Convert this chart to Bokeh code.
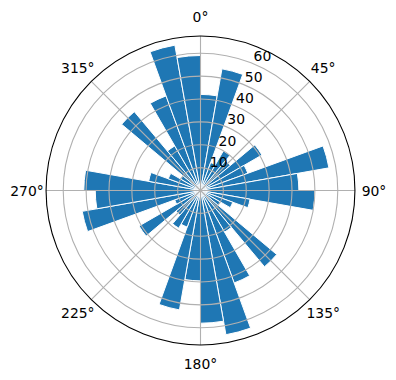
import numpy as np
from bokeh.plotting import figure
from bokeh.models import Range1d, ColumnDataSource
from bokeh.embed import file_html
from bokeh.resources import INLINE
from bokeh.core.properties import value

# ---- data (compass degrees, clockwise from north) ----
bin_start = [0, 10, 20, 30, 40, 50, 60, 70, 80, 90, 100, 110,
             120, 130, 140, 150, 160, 170, 180, 190, 200, 210, 220, 230,
             240, 250, 260, 270, 280, 290, 300, 310, 320, 330, 340, 350]
bin_width = 10
counts = [42, 54, 13, 20, 17, 31, 22, 57, 43, 50, 22, 15,
          10, 43.5, 21, 43, 64, 58, 39.5, 53, 17, 19, 14, 31,
          12, 52.5, 46, 51, 23, 15, 10, 45, 22.5, 44, 64.5, 59]
ring_values = [10, 20, 30, 40, 50, 60]
ring_labels = ["10", "20", "30", "40", "50", "60"]
theta_ticks = [0, 45, 90, 135, 180, 225, 270, 315]
theta_labels = ["0°", "45°", "90°", "135°", "180°", "225°", "270°", "315°"]
r_max = 67.5

# ---- geometry ----
PX = 2.288  # pixels per radial unit
W, H = 396, 380
CX, CY = 200, 190

p = figure(width=W, height=H, output_backend="svg", toolbar_location=None,
           x_range=Range1d(-CX / PX, (W - CX) / PX),
           y_range=Range1d(-(H - CY) / PX, CY / PX),
           x_axis_location=None, y_axis_location=None, min_border=0)
p.grid.visible = False
p.outline_line_color = None
p.background_fill_color = "white"

bs = np.array(bin_start, dtype=float)
src = ColumnDataSource(dict(
    r=counts,
    start=np.deg2rad(90 - (bs + bin_width)),
    end=np.deg2rad(90 - bs),
))
p.wedge(x=0, y=0, radius="r", start_angle="start", end_angle="end",
        source=src, fill_color="#1f77b4", line_color="white", line_width=1)

# grid rings
p.arc(x=0, y=0, radius=ring_values, start_angle=0, end_angle=2 * np.pi,
      line_color="#b0b0b0", line_width=1.1)
# spokes
tt = np.deg2rad(90 - np.array(theta_ticks, dtype=float))
p.segment(x0=0, y0=0, x1=r_max * np.cos(tt), y1=r_max * np.sin(tt),
          line_color="#b0b0b0", line_width=1.1)
# outer circle
p.arc(x=0, y=0, radius=r_max, start_angle=0, end_angle=2 * np.pi,
      line_color="black", line_width=1.1)

# theta labels
rl = 173.5 / PX
p.text(x=rl * np.cos(tt), y=rl * np.sin(tt), text=theta_labels,
       text_align="center", text_baseline="middle",
       text_font=value("DejaVu Sans"), text_font_size="13.9px", text_color="black")

# radial labels
a = np.deg2rad(90 - 22.5)
rv = np.array(ring_values, dtype=float)
p.text(x=rv * np.cos(a) + 9.4 / PX, y=rv * np.sin(a) + 7.6 / PX, text=ring_labels,
       text_align="center", text_baseline="middle",
       text_font=value("DejaVu Sans"), text_font_size="13.9px", text_color="black")

open("out.html", "w").write(file_html(p, INLINE))
